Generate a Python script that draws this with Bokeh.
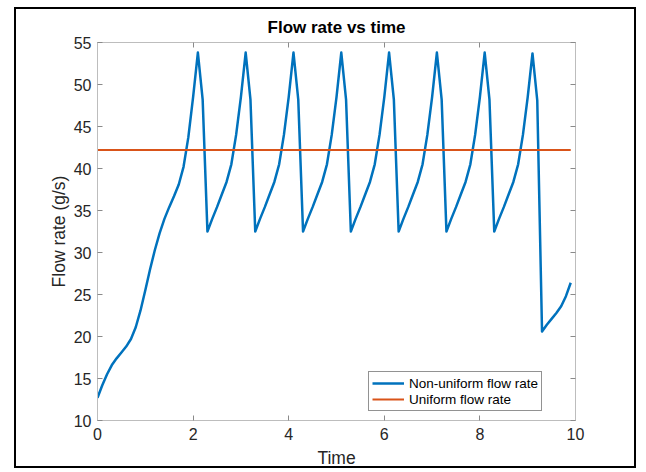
from bokeh.plotting import figure
from bokeh.models import (Range1d, FixedTicker, LinearAxis, Legend, LegendItem,
                          CustomLabelingPolicy)
from bokeh.embed import file_html
from bokeh.resources import INLINE

# ---- data ----
time = [0.0, 0.1, 0.2, 0.3, 0.4, 0.5, 0.6, 0.7, 0.8, 0.9,
        1.0, 1.1, 1.2, 1.3, 1.4, 1.5, 1.6, 1.7, 1.8, 1.9,
        2.0, 2.1, 2.2, 2.3, 2.4, 2.5, 2.6, 2.7, 2.8, 2.9,
        3.0, 3.1, 3.2, 3.3, 3.4, 3.5, 3.6, 3.7, 3.8, 3.9,
        4.0, 4.1, 4.2, 4.3, 4.4, 4.5, 4.6, 4.7, 4.8, 4.9,
        5.0, 5.1, 5.2, 5.3, 5.4, 5.5, 5.6, 5.7, 5.8, 5.9,
        6.0, 6.1, 6.2, 6.3, 6.4, 6.5, 6.6, 6.7, 6.8, 6.9,
        7.0, 7.1, 7.2, 7.3, 7.4, 7.5, 7.6, 7.7, 7.8, 7.9,
        8.0, 8.1, 8.2, 8.3, 8.4, 8.5, 8.6, 8.7, 8.8, 8.9,
        9.0, 9.1, 9.2, 9.3, 9.4, 9.5, 9.6, 9.7, 9.8, 9.9]

nonuniform_flow = [12.7, 14.2, 15.5, 16.6, 17.4, 18.1, 18.8, 19.7, 21.1, 23.1,
                   25.5, 28.0, 30.3, 32.3, 34.0, 35.4, 36.7, 38.1, 40.2, 43.7,
                   48.5, 53.8, 48.2, 32.5, 34.0, 35.4, 36.9, 38.4, 40.5, 44.0,
                   48.5, 53.8, 48.2, 32.5, 34.0, 35.4, 36.9, 38.4, 40.5, 44.0,
                   48.5, 53.8, 48.2, 32.5, 34.0, 35.4, 36.9, 38.4, 40.5, 44.0,
                   48.5, 53.8, 48.2, 32.5, 34.0, 35.4, 36.9, 38.4, 40.5, 44.0,
                   48.5, 53.8, 48.2, 32.5, 34.0, 35.4, 36.9, 38.4, 40.5, 44.0,
                   48.5, 53.8, 48.2, 32.5, 34.0, 35.4, 36.9, 38.4, 40.5, 44.0,
                   48.5, 53.8, 48.2, 32.5, 34.0, 35.4, 36.9, 38.4, 40.5, 44.0,
                   48.5, 53.7, 48.1, 20.6, 21.4, 22.1, 22.8, 23.6, 24.8, 26.4]

uniform_time = [0.0, 9.9]
uniform_flow = [42.2, 42.2]

x_ticks = [0, 2, 4, 6, 8, 10]
y_ticks = [10, 15, 20, 25, 30, 35, 40, 45, 50, 55]

title_text = "Flow rate vs time"
x_label = "Time"
y_label = "Flow rate (g/s)"
series_names = ["Non-uniform flow rate", "Uniform flow rate"]

BLUE = "#0072BD"
ORANGE = "#D95319"
FONT = "Liberation Sans"
AXIS_LINE = "#bdbdbd"
TICK_LINE = "#8a8a8a"
TEXT = "#262626"

p = figure(width=622, height=461, output_backend="svg", toolbar_location=None,
           x_range=Range1d(0, 10), y_range=Range1d(10, 55),
           min_border_left=81, min_border_right=63, min_border_top=33, min_border_bottom=50)
p.margin = (7, 0, 0, 14)
p.styles = {"border": "2px solid black"}
p.background_fill_color = "white"
p.border_fill_color = "white"
p.outline_line_color = None
p.xgrid.visible = False
p.ygrid.visible = False

p.title.text = title_text
p.title.align = "center"
p.title.text_font = FONT
p.title.text_font_size = "17px"
p.title.text_font_style = "bold"
p.title.text_color = "black"
p.title.standoff = 4

hide_all = CustomLabelingPolicy(code="""
    for (const i of indices) { indices.unset(i) }
    return indices
""")


def style_axis(ax, ticks, show_labels):
    ax.ticker = FixedTicker(ticks=ticks)
    ax.axis_line_color = AXIS_LINE
    ax.axis_line_width = 1
    ax.major_tick_line_color = TICK_LINE
    ax.major_tick_in = 5
    ax.major_tick_out = 0
    ax.minor_tick_line_color = None
    ax.major_label_text_font = FONT
    ax.major_label_text_color = TEXT
    if show_labels:
        ax.major_label_text_font_size = "16px"
        ax.major_label_standoff = 7
    else:
        ax.major_label_text_font_size = "1px"
        ax.major_label_policy = hide_all
        ax.major_label_standoff = 0


style_axis(p.xaxis[0], x_ticks, True)
style_axis(p.yaxis[0], y_ticks, True)
p.yaxis[0].major_label_standoff = 6
p.xaxis.axis_label = x_label
p.yaxis.axis_label = y_label
for ax in (p.xaxis[0], p.yaxis[0]):
    ax.axis_label_text_font = FONT
    ax.axis_label_text_font_size = "17.5px"
    ax.axis_label_text_font_style = "normal"
    ax.axis_label_text_color = TEXT
p.xaxis[0].axis_label_standoff = 5
p.yaxis[0].axis_label_standoff = 2

top_ax = LinearAxis()
right_ax = LinearAxis()
style_axis(top_ax, x_ticks, False)
style_axis(right_ax, y_ticks, False)
p.add_layout(top_ax, "above")
p.add_layout(right_ax, "right")

r1 = p.line(time, nonuniform_flow, line_color=BLUE, line_width=2.5, line_join="round")
r2 = p.line(uniform_time, uniform_flow, line_color=ORANGE, line_width=2.2)

legend = Legend(items=[LegendItem(label=series_names[0], renderers=[r1]),
                       LegendItem(label=series_names[1], renderers=[r2])],
                location=(271, 9))
legend.label_text_font = FONT
legend.label_text_font_size = "13.5px"
legend.label_text_color = "black"
legend.label_height = 16
legend.glyph_height = 16
legend.glyph_width = 32
legend.label_standoff = 5
legend.spacing = 0
legend.padding = 3
legend.margin = 0
legend.border_line_color = "#262626"
legend.border_line_width = 1
legend.background_fill_color = "white"
legend.background_fill_alpha = 1
p.add_layout(legend, "center")

open("out.html", "w").write(file_html(p, INLINE))
